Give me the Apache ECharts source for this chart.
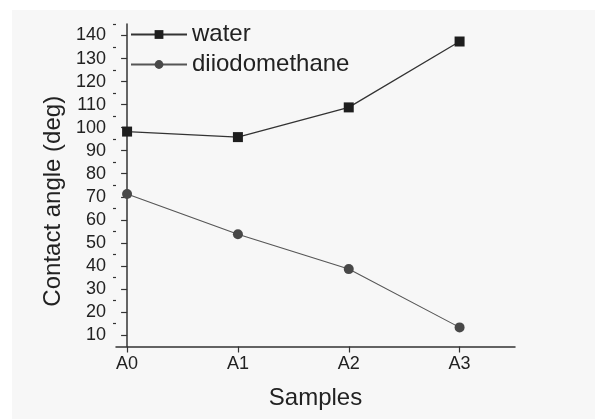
<!DOCTYPE html>
<html>
<head>
<meta charset="utf-8">
<script src="https://cdn.jsdelivr.net/npm/echarts@6/dist/echarts.min.js"></script>
<style>
html,body{margin:0;padding:0;background:#fff;}
#chart{width:595px;height:419px;}
</style>
</head>
<body>
<div id="chart"></div>
<script>
var categories = ['A0', 'A1', 'A2', 'A3'];
var waterValues = [98.3, 95.9, 108.8, 137.4];
var diiodomethaneValues = [71.2, 53.7, 38.6, 13.3];
var yMajorTicks = [10, 20, 30, 40, 50, 60, 70, 80, 90, 100, 110, 120, 130, 140];
var yMinorTicks = [15, 25, 35, 45, 55, 65, 75, 85, 95, 105, 115, 125, 135, 145];

function toPairs(vals) {
  return vals.map(function (v, i) { return [i, v]; });
}
var catIdx = categories.map(function (c, i) { return i; });

var font = '"Liberation Sans", Arial, sans-serif';
var textColor = '#222';

var chart = echarts.init(document.getElementById('chart'), null, {renderer: 'canvas'});
chart.setOption({
  animation: false,
  backgroundColor: 'transparent',
  graphic: [{
    type: 'rect', z: -10, silent: true,
    shape: {x: 12, y: 10, width: 583, height: 409},
    style: {fill: '#f7f7f7'}
  }],
  legend: {
    orient: 'vertical',
    left: 125,
    top: 17.5,
    itemWidth: 56,
    itemHeight: 11,
    itemGap: 6,
    textStyle: {fontFamily: font, fontSize: 24, color: textColor},
    data: ['water', 'diiodomethane']
  },
  grid: {left: 116, right: 80, top: 24, bottom: 72.5, containLabel: false},
  xAxis: {
    type: 'value',
    min: -0.1,
    max: 3.5,
    name: 'Samples',
    nameLocation: 'middle',
    nameGap: 40,
    nameTextStyle: {fontFamily: font, fontSize: 24, color: textColor},
    splitLine: {show: false},
    axisLine: {show: true, lineStyle: {color: '#333', width: 1.5}},
    axisTick: {show: true, inside: false, length: 6, customValues: catIdx, lineStyle: {color: '#333', width: 1.2}},
    axisLabel: {
      customValues: catIdx,
      margin: 9,
      fontFamily: font, fontSize: 18, color: textColor,
      formatter: function (v) { return categories[Math.round(v)] || ''; }
    }
  },
  yAxis: [{
    type: 'value',
    min: 5,
    max: 145,
    name: 'Contact angle (deg)',
    nameLocation: 'middle',
    nameGap: 51,
    nameRotate: 90,
    nameTextStyle: {fontFamily: font, fontSize: 24, color: textColor, padding: [0, 32, 0, 0]},
    splitLine: {show: false},
    axisLine: {show: true, lineStyle: {color: '#333', width: 1.5}},
    axisTick: {show: true, inside: false, length: 6, customValues: yMajorTicks, lineStyle: {color: '#333', width: 1.2}},
    axisLabel: {customValues: yMajorTicks, margin: 10, fontFamily: font, fontSize: 18, color: textColor}
  }, {
    type: 'value',
    min: 5,
    max: 145,
    position: 'left',
    offset: 0,
    splitLine: {show: false},
    axisLine: {show: false},
    axisTick: {show: true, inside: false, length: 3, customValues: yMinorTicks, lineStyle: {color: '#333', width: 1.2}},
    axisLabel: {show: false}
  }],
  series: [{
    name: 'water',
    type: 'line',
    data: toPairs(waterValues),
    symbol: 'rect',
    symbolSize: 10,
    itemStyle: {color: '#1e1e1e'},
    lineStyle: {color: '#333', width: 1.3}
  }, {
    name: 'diiodomethane',
    type: 'line',
    data: toPairs(diiodomethaneValues),
    symbol: 'circle',
    symbolSize: 10,
    itemStyle: {color: '#484848'},
    lineStyle: {color: '#555', width: 1.1}
  }]
});
</script>
</body>
</html>
